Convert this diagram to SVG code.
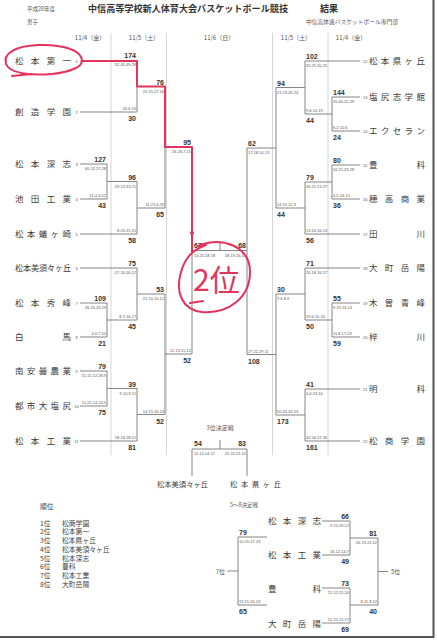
<svg xmlns="http://www.w3.org/2000/svg" width="437" height="640" viewBox="0 0 437 640">
<style>
.t{font-family:"Noto Sans CJK JP","Noto Sans",sans-serif;font-size:8.5px;fill:#3a3a3a}
.n{font-family:"Liberation Sans",sans-serif;font-size:4px;fill:#555}
.s{font-family:"Liberation Sans",sans-serif;font-size:7px;font-weight:bold;fill:#333}
.q{font-family:"Liberation Sans",sans-serif;font-size:4px;fill:#555}
.h{font-family:"Noto Sans CJK JP",sans-serif;font-size:6px;fill:#555}
.r{font-family:"Noto Sans CJK JP",sans-serif;font-size:6.8px;fill:#444}
.e{text-anchor:end}
.m{text-anchor:middle}
.ln{stroke:#777;stroke-width:0.9;fill:none}
.sep{stroke:#ccc;stroke-width:0.8}
.red{stroke:#e4345c;stroke-width:2;fill:none;stroke-linecap:round;stroke-linejoin:round}
</style>
<rect width="437" height="640" fill="#fff"/>
<!-- frame -->
<line x1="433.5" y1="0" x2="433.5" y2="638" stroke="#555" stroke-width="2"/>
<line x1="0" y1="637" x2="434" y2="637" stroke="#555" stroke-width="2"/>
<!-- titles -->
<g id="title">
<text x="27" y="11" class="h" style="font-size:5.5px">平成28年度</text>
<text x="27" y="24" class="h" style="font-size:5.5px">男子</text>
<text x="88" y="12" style="font-family:'Noto Sans CJK JP',sans-serif;font-size:9px;font-weight:bold;fill:#333" textLength="200" lengthAdjust="spacingAndGlyphs">中信高等学校新人体育大会バスケットボール競技</text>
<text x="320" y="12" style="font-family:'Noto Sans CJK JP',sans-serif;font-size:9px;font-weight:bold;fill:#333">結果</text>
<text x="306" y="24" class="h" style="font-size:5.6px" textLength="92" lengthAdjust="spacingAndGlyphs">中信高体連バスケットボール専門部</text>
<text x="90" y="40" class="h m">11/4（金）</text>
<text x="144" y="40" class="h m">11/5（土）</text>
<text x="219" y="40" class="h m">11/6（日）</text>
<text x="296" y="40" class="h m">11/5（土）</text>
<text x="351" y="40" class="h m">11/4（金）</text>
</g>
<!-- separators -->
<g id="separators">
<line class="sep" x1="111" y1="33" x2="111" y2="455"/>
<line class="sep" x1="166.5" y1="33" x2="166.5" y2="455"/>
<line class="sep" x1="272.5" y1="33" x2="272.5" y2="455"/>
<line class="sep" x1="328" y1="33" x2="328" y2="455"/>
</g>
<!-- left teams -->
<g id="team1"><text class="t" x="15" y="64" textLength="56" lengthAdjust="spacing">松本第一</text><text class="n" x="75.5" y="62.5">1</text></g>
<g id="team2"><text class="t" x="15" y="115" textLength="56" lengthAdjust="spacing">創造学園</text><text class="n" x="75.5" y="113.5">2</text></g>
<g id="team3"><text class="t" x="15" y="167" textLength="56" lengthAdjust="spacing">松本深志</text><text class="n" x="75.5" y="165.5">3</text></g>
<g id="team4"><text class="t" x="15" y="202" textLength="56" lengthAdjust="spacing">池田工業</text><text class="n" x="75.5" y="200.5">4</text></g>
<g id="team5"><text class="t" x="15" y="237" textLength="56" lengthAdjust="spacing">松本蟻ヶ崎</text><text class="n" x="75.5" y="235.5">5</text></g>
<g id="team6"><text class="t" x="15" y="271" textLength="56" lengthAdjust="spacingAndGlyphs">松本美須々ヶ丘</text><text class="n" x="75.5" y="269.5">6</text></g>
<g id="team7"><text class="t" x="15" y="306" textLength="56" lengthAdjust="spacing">松本秀峰</text><text class="n" x="75.5" y="304.5">7</text></g>
<g id="team8"><text class="t" x="15" y="340" textLength="56" lengthAdjust="spacing">白馬</text><text class="n" x="75.5" y="338.5">8</text></g>
<g id="team9"><text class="t" x="15" y="374" textLength="56" lengthAdjust="spacing">南安曇農業</text><text class="n" x="75.5" y="372.5">9</text></g>
<g id="team10"><text class="t" x="15" y="409" textLength="56" lengthAdjust="spacing">都市大塩尻</text><text class="n" x="74.5" y="407.5">10</text></g>
<g id="team11"><text class="t" x="15" y="444" textLength="56" lengthAdjust="spacing">松本工業</text><text class="n" x="74.5" y="442.5">11</text></g>
<!-- right teams -->
<g id="team12"><text class="n" x="363" y="62.5">12</text><text class="t" x="369" y="64" textLength="56" lengthAdjust="spacing">松本県ヶ丘</text></g>
<g id="team13"><text class="n" x="363" y="98.5">13</text><text class="t" x="369" y="100" textLength="56" lengthAdjust="spacing">塩尻志学館</text></g>
<g id="team14"><text class="n" x="363" y="132.5">14</text><text class="t" x="369" y="134" textLength="56" lengthAdjust="spacing">エクセラン</text></g>
<g id="team15"><text class="n" x="363" y="166.5">15</text><text class="t" x="369" y="168" textLength="56" lengthAdjust="spacing">豊科</text></g>
<g id="team16"><text class="n" x="363" y="200.5">16</text><text class="t" x="369" y="202" textLength="56" lengthAdjust="spacing">穂高商業</text></g>
<g id="team17"><text class="n" x="363" y="235.5">17</text><text class="t" x="369" y="237" textLength="56" lengthAdjust="spacing">田川</text></g>
<g id="team18"><text class="n" x="363" y="269.5">18</text><text class="t" x="369" y="271" textLength="56" lengthAdjust="spacing">大町岳陽</text></g>
<g id="team19"><text class="n" x="363" y="304.5">19</text><text class="t" x="369" y="306" textLength="56" lengthAdjust="spacing">木曽青峰</text></g>
<g id="team20"><text class="n" x="363" y="338.5">20</text><text class="t" x="369" y="340" textLength="56" lengthAdjust="spacing">梓川</text></g>
<g id="team21"><text class="n" x="363" y="390.5">21</text><text class="t" x="369" y="392" textLength="56" lengthAdjust="spacing">明科</text></g>
<g id="team22"><text class="n" x="363" y="442.5">22</text><text class="t" x="369" y="444" textLength="56" lengthAdjust="spacing">松商学園</text></g>
<!-- connectors -->
<g id="connectors" class="ln">
<path d="M80 61H137V112H80"/>
<path d="M80 164H107V199H80"/>
<path d="M107 181.5H137V234H80"/>
<path d="M137 86.5H165V208H137"/>
<path d="M165 147H192V354H165"/>
<path d="M80 303H107V337H80"/>
<path d="M80 268H137V320H107"/>
<path d="M80 371H107V406H80"/>
<path d="M107 388.5H137V441H80"/>
<path d="M137 294H165V414.5H137"/>
<path d="M192 250.5H247"/>
<path d="M220 243V250.5"/>
<path d="M360 61H305V114H332"/>
<path d="M360 97H332V131H360"/>
<path d="M305 87.5H276V208H305"/>
<path d="M360 165H332V199H360"/>
<path d="M332 182H305V234H360"/>
<path d="M276 148H247V354.5H276"/>
<path d="M360 268H305V320H332"/>
<path d="M360 303H332V337H360"/>
<path d="M305 294H276V415H305"/>
<path d="M360 389H305V441H360"/>
<path d="M192 476V449H247V476"/>
<path d="M220 440V449"/>
<path d="M322 521H350V555H322"/>
<path d="M322 588H350V623H322"/>
<path d="M350 538H378V605H350"/>
<path d="M378 571.5H388"/>
<path d="M267 537H238V605H267"/>
<path d="M238 571H227"/>
</g>
<!-- scores left -->
<g id="scores-left">
<text class="s e" x="136" y="58">174</text><text class="q e" x="136" y="66">32.45.49.28</text>
<text class="q e" x="136" y="110">24.6.16</text><text class="s e" x="136" y="121">30</text>
<text class="s e" x="106" y="162">127</text><text class="q e" x="106" y="170">40.52.27.28</text>
<text class="q e" x="106" y="197">11.4.6.22</text><text class="s e" x="106" y="208">43</text>
<text class="s e" x="136" y="179.5">96</text><text class="q e" x="136" y="187.5">29.13.33.21</text>
<text class="q e" x="136" y="232">8.20.15.15</text><text class="s e" x="136" y="243">58</text>
<text class="s e" x="164" y="84.5">76</text><text class="q e" x="164" y="92.5">19.15.27.16</text>
<text class="q e" x="164" y="206">11.21.6.29</text><text class="s e" x="164" y="217">65</text>
<text class="s e" x="106" y="301">109</text><text class="q e" x="106" y="309">26.25.24.29</text>
<text class="q e" x="106" y="335">4.0.7.10</text><text class="s e" x="106" y="346">21</text>
<text class="s e" x="136" y="266">75</text><text class="q e" x="136" y="274">27.20.16.12</text>
<text class="q e" x="136" y="318">8.2.16.17</text><text class="s e" x="136" y="329">45</text>
<text class="s e" x="106" y="369">79</text><text class="q e" x="106" y="377">15.15.12.28.9</text>
<text class="q e" x="106" y="404">11.22.14.23.5</text><text class="s e" x="106" y="415">75</text>
<text class="s e" x="136" y="386.5">39</text><text class="q e" x="136" y="394.5">9.10.9.11</text>
<text class="q e" x="136" y="439">18.24.18.21</text><text class="s e" x="136" y="450">81</text>
<text class="s e" x="164" y="292">53</text><text class="q e" x="164" y="300">21.10.10.12</text>
<text class="q e" x="164" y="412.5">14.15.16.13</text><text class="s e" x="164" y="423.5">52</text>
<text class="s e" x="191" y="145">95</text><text class="q e" x="191" y="153">26.26.7.15</text>
<text class="q e" x="191" y="352">12.13.15.12</text><text class="s e" x="191" y="363">52</text>
</g>
<g id="final">
<text class="s" x="194" y="248">67</text><text class="s e" x="246" y="248">68</text>
<text class="q" x="194" y="256.5">13.25.18.18</text><text class="q e" x="246" y="256.5">18.19.16.15</text>
</g>
<g id="scores-right">
<text class="s" x="306" y="59">102</text><text class="q" x="306" y="67">32.25.20.25</text>
<text class="s" x="333" y="95">144</text><text class="q" x="333" y="103">35.40.25.29</text>
<text class="q" x="333" y="129">6.2.10.6</text><text class="s" x="333" y="140">24</text>
<text class="q" x="306" y="112">9.6.10.19</text><text class="s" x="306" y="123">44</text>
<text class="s" x="277" y="85.5">94</text><text class="q" x="277" y="93.5">21.23.26.24</text>
<text class="s" x="333" y="163">80</text><text class="q" x="333" y="171">16.21.23.28</text>
<text class="q" x="333" y="197">4.5.16.13</text><text class="s" x="333" y="208">36</text>
<text class="s" x="306" y="180">79</text><text class="q" x="306" y="188">16.21.13.27</text>
<text class="q" x="306" y="232">13.14.16.13</text><text class="s" x="306" y="243">56</text>
<text class="q" x="277" y="206">14.15.12.3</text><text class="s" x="277" y="217">44</text>
<text class="s" x="248" y="146">62</text><text class="q" x="248" y="154">17.18.14.13</text>
<text class="s" x="306" y="266">71</text><text class="q" x="306" y="274">20.18.16.17</text>
<text class="s" x="333" y="301">55</text><text class="q" x="333" y="309">9.19.13.14</text>
<text class="q" x="333" y="335">11.8.17.23</text><text class="s" x="333" y="346">59</text>
<text class="q" x="306" y="318">19.6.15.10</text><text class="s" x="306" y="329">50</text>
<text class="s" x="277" y="292">30</text><text class="q" x="277" y="300">7.6.8.9</text>
<text class="s" x="306" y="387">41</text><text class="q" x="306" y="395">4.4.23.10</text>
<text class="q" x="306" y="439">42.56.27.36</text><text class="s" x="306" y="450">161</text>
<text class="q" x="277" y="413">50.43.24.54</text><text class="s" x="277" y="424">173</text>
<text class="q" x="248" y="352.5">27.22.29.11</text><text class="s" x="248" y="363.5">108</text>
</g>
<g id="third">
<text class="h m" x="220" y="430">3位決定戦</text>
<text class="s" x="194" y="446">54</text><text class="s e" x="246" y="446">83</text>
<text class="q" x="194" y="455">11.12.14.17</text><text class="q e" x="246" y="455">25.22.21.15</text>
<text class="t" x="157" y="487" style="font-size:7.2px" textLength="51" lengthAdjust="spacingAndGlyphs">松本美須々ヶ丘</text>
<text class="t" x="230" y="487" style="font-size:7.2px" textLength="51" lengthAdjust="spacing">松本県ヶ丘</text>
</g>
<g id="ranking">
<text class="r" x="40" y="509">順位</text>
<text class="r" x="40" y="525.5">1位</text><text class="r" x="62" y="525.5">松商学園</text>
<text class="r" x="40" y="534.2">2位</text><text class="r" x="62" y="534.2">松本第一</text>
<text class="r" x="40" y="543">3位</text><text class="r" x="62" y="543">松本県ヶ丘</text>
<text class="r" x="40" y="551.7">4位</text><text class="r" x="62" y="551.7">松本美須々ヶ丘</text>
<text class="r" x="40" y="560.5">5位</text><text class="r" x="62" y="560.5">松本深志</text>
<text class="r" x="40" y="569.2">6位</text><text class="r" x="62" y="569.2">豊科</text>
<text class="r" x="40" y="578">7位</text><text class="r" x="62" y="578">松本工業</text>
<text class="r" x="40" y="586.7">8位</text><text class="r" x="62" y="586.7">大町岳陽</text>
</g>
<g id="place58">
<text class="h" x="230" y="507" style="font-size:5.5px">5～8決定戦</text>
<text class="t" x="268" y="523.5" textLength="53" lengthAdjust="spacing">松本深志</text>
<text class="t" x="268" y="557.5" textLength="53" lengthAdjust="spacing">松本工業</text>
<text class="t" x="268" y="591.5" textLength="53" lengthAdjust="spacing">豊科</text>
<text class="t" x="268" y="626.5" textLength="53" lengthAdjust="spacing">大町岳陽</text>
<text class="s e" x="349" y="519">66</text><text class="q e" x="349" y="527">9.15.29.12</text>
<text class="q e" x="349" y="553">16.12.14.7</text><text class="s e" x="349" y="564">49</text>
<text class="s e" x="349" y="586">73</text><text class="q e" x="349" y="594">21.12.25.20</text>
<text class="q e" x="349" y="621">12.25.15.17</text><text class="s e" x="349" y="632">69</text>
<text class="s e" x="377" y="536">81</text><text class="q e" x="377" y="544">26.19.22.12</text>
<text class="q e" x="377" y="603">8.11.8.12</text><text class="s e" x="377" y="614">40</text>
<text class="h" x="391" y="574">5位</text>
<text class="s" x="239" y="535">79</text><text class="q" x="239" y="543">10.20.17.23</text>
<text class="q" x="239" y="603">19.15.16.13</text><text class="s" x="239" y="614">65</text>
<text class="h e" x="225" y="574">7位</text>
</g>
<g id="annotation">
<path class="red" d="M82 61C82 50 62 44 38 45C14 46 3 54 6 64C9 73 30 76 52 74C70 72 82 67 82 61"/>
<path class="red" d="M12 76L32 74"/>
<path class="red" d="M82 61H137V86.5H165V147H192V252"/>
<circle cx="192" cy="233" r="2" fill="#e4345c"/>
<path class="red" d="M198 246C222 236 250 246 250 272C250 298 228 314 202 312C182 310 175 292 181 272C185 258 192 250 206 245"/>
<path class="red" d="M190 303L203 301"/>
<text x="193" y="291" style="font-family:'Noto Sans CJK JP',sans-serif;font-size:30px;fill:#e4345c">2位</text>
</g>
</svg>
